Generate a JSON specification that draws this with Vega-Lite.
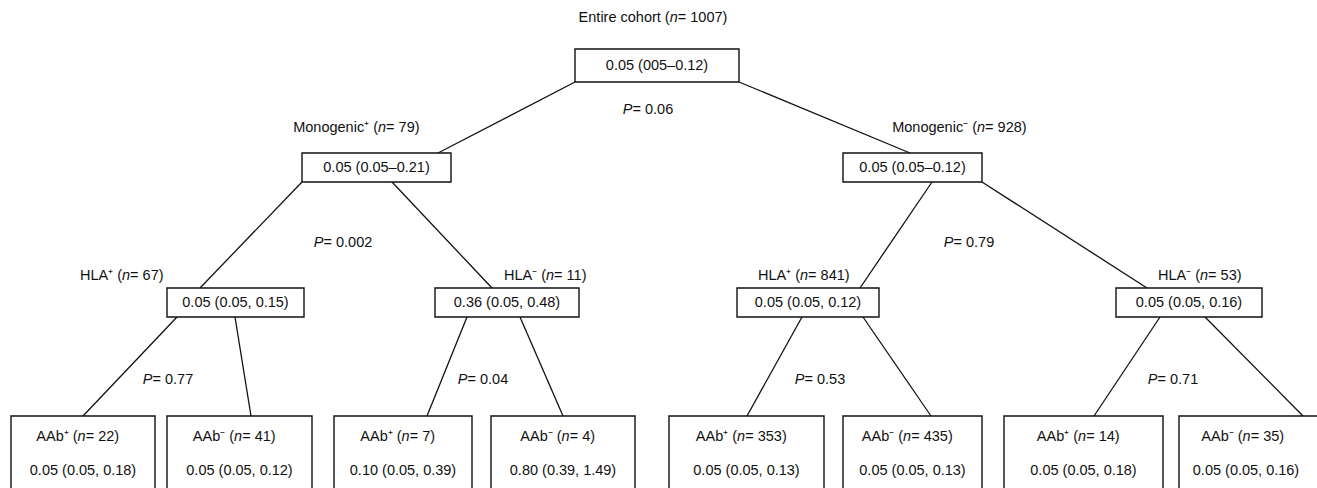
{
  "$schema": "https://vega.github.io/schema/vega-lite/v6.json",
  "width": 1317,
  "height": 488,
  "autosize": "none",
  "padding": 0,
  "background": "white",
  "config": {"view": {"stroke": null}, "text": {"font": "Liberation Sans", "fontSize": 14.5, "color": "#111111"}},
  "datasets": {
    "boxes": [
      {"node": "Entire cohort", "x0": 575, "x1": 739, "y0": 49, "y1": 82},
      {"node": "Monogenic+", "x0": 302, "x1": 451, "y0": 153, "y1": 182},
      {"node": "Monogenic-", "x0": 843, "x1": 982, "y0": 153, "y1": 182},
      {"node": "Mono+ HLA+", "x0": 167, "x1": 304, "y0": 288, "y1": 317},
      {"node": "Mono+ HLA-", "x0": 435, "x1": 579, "y0": 288, "y1": 317},
      {"node": "Mono- HLA+", "x0": 737, "x1": 879, "y0": 288, "y1": 317},
      {"node": "Mono- HLA-", "x0": 1116, "x1": 1262, "y0": 288, "y1": 317},
      {"node": "AAb+ 22", "x0": 11, "x1": 155, "y0": 416, "y1": 500},
      {"node": "AAb- 41", "x0": 167, "x1": 312, "y0": 416, "y1": 500},
      {"node": "AAb+ 7", "x0": 334, "x1": 472, "y0": 416, "y1": 500},
      {"node": "AAb- 4", "x0": 491, "x1": 635, "y0": 416, "y1": 500},
      {"node": "AAb+ 353", "x0": 669, "x1": 824, "y0": 416, "y1": 500},
      {"node": "AAb- 435", "x0": 843, "x1": 982, "y0": 416, "y1": 500},
      {"node": "AAb+ 14", "x0": 1004, "x1": 1163, "y0": 416, "y1": 500},
      {"node": "AAb- 35", "x0": 1179, "x1": 1330, "y0": 416, "y1": 500}
    ],
    "edges": [
      {"x": 575, "y": 82, "x2": 438, "y2": 153},
      {"x": 739, "y": 82, "x2": 910, "y2": 153},
      {"x": 302, "y": 182, "x2": 200, "y2": 288},
      {"x": 392, "y": 182, "x2": 492, "y2": 288},
      {"x": 932, "y": 182, "x2": 860, "y2": 288},
      {"x": 982, "y": 182, "x2": 1147, "y2": 288},
      {"x": 177, "y": 317, "x2": 83, "y2": 416},
      {"x": 235, "y": 317, "x2": 251, "y2": 416},
      {"x": 467, "y": 317, "x2": 427, "y2": 416},
      {"x": 520, "y": 317, "x2": 563, "y2": 416},
      {"x": 802, "y": 317, "x2": 747, "y2": 416},
      {"x": 863, "y": 317, "x2": 931, "y2": 416},
      {"x": 1160, "y": 317, "x2": 1094, "y2": 416},
      {"x": 1205, "y": 317, "x2": 1303, "y2": 416}
    ],
    "labels": [
      {"pre": "Entire cohort (", "post": " = 1007)", "ax": 669.7, "y": 18},
      {"pre": "Monogenic⁺ (", "post": " = 79)", "ax": 378, "y": 128},
      {"pre": "Monogenic⁻ (", "post": " = 928)", "ax": 977, "y": 128},
      {"pre": "HLA⁺ (", "post": " = 67)", "ax": 122, "y": 276},
      {"pre": "HLA⁻ (", "post": " = 11)", "ax": 546, "y": 276},
      {"pre": "HLA⁺ (", "post": " = 841)", "ax": 800, "y": 276},
      {"pre": "HLA⁻ (", "post": " = 53)", "ax": 1200, "y": 276},
      {"pre": "AAb⁺ (", "post": " = 22)", "ax": 77.6, "y": 437},
      {"pre": "AAb⁻ (", "post": " = 41)", "ax": 234.1, "y": 437},
      {"pre": "AAb⁺ (", "post": " = 7)", "ax": 401.6, "y": 437},
      {"pre": "AAb⁻ (", "post": " = 4)", "ax": 561.6, "y": 437},
      {"pre": "AAb⁺ (", "post": " = 353)", "ax": 737.1, "y": 437},
      {"pre": "AAb⁻ (", "post": " = 435)", "ax": 903.1, "y": 437},
      {"pre": "AAb⁺ (", "post": " = 14)", "ax": 1078.1, "y": 437},
      {"pre": "AAb⁻ (", "post": " = 35)", "ax": 1242.6, "y": 437}
    ],
    "values": [
      {"txt": "0.05 (005–0.12)", "x": 657, "y": 66},
      {"txt": "0.05 (0.05–0.21)", "x": 376.5, "y": 168},
      {"txt": "0.05 (0.05–0.12)", "x": 912.5, "y": 168},
      {"txt": "0.05 (0.05, 0.15)", "x": 235.5, "y": 303},
      {"txt": "0.36 (0.05, 0.48)", "x": 507, "y": 303},
      {"txt": "0.05 (0.05, 0.12)", "x": 808, "y": 303},
      {"txt": "0.05 (0.05, 0.16)", "x": 1189, "y": 303},
      {"txt": "0.05 (0.05, 0.18)", "x": 83, "y": 471},
      {"txt": "0.05 (0.05, 0.12)", "x": 239.5, "y": 471},
      {"txt": "0.10 (0.05, 0.39)", "x": 403, "y": 471},
      {"txt": "0.80 (0.39, 1.49)", "x": 563, "y": 471},
      {"txt": "0.05 (0.05, 0.13)", "x": 746.5, "y": 471},
      {"txt": "0.05 (0.05, 0.13)", "x": 912.5, "y": 471},
      {"txt": "0.05 (0.05, 0.18)", "x": 1083.5, "y": 471},
      {"txt": "0.05 (0.05, 0.16)", "x": 1246, "y": 471}
    ],
    "pvals": [
      {"post": " = 0.06", "ax": 632.5, "y": 110},
      {"post": " = 0.002", "ax": 323.5, "y": 243},
      {"post": " = 0.79", "ax": 953.5, "y": 243},
      {"post": " = 0.77", "ax": 152.5, "y": 380},
      {"post": " = 0.04", "ax": 467.5, "y": 380},
      {"post": " = 0.53", "ax": 804.5, "y": 380},
      {"post": " = 0.71", "ax": 1157.5, "y": 380}
    ]
  },
  "layer": [
    {
      "data": {"name": "edges"},
      "mark": {"type": "rule", "color": "#111111", "strokeWidth": 1.3},
      "encoding": {
        "x": {"field": "x", "type": "quantitative", "scale": {"domain": [0, 1317], "nice": false, "zero": false}, "axis": null},
        "y": {"field": "y", "type": "quantitative", "scale": {"domain": [0, 488], "nice": false, "zero": false, "reverse": true}, "axis": null},
        "x2": {"field": "x2"},
        "y2": {"field": "y2"}
      }
    },
    {
      "data": {"name": "boxes"},
      "mark": {"type": "rect", "fill": "white", "stroke": "#111111", "strokeWidth": 1.4},
      "encoding": {
        "x": {"field": "x0", "type": "quantitative", "axis": null},
        "x2": {"field": "x1"},
        "y": {"field": "y0", "type": "quantitative", "axis": null},
        "y2": {"field": "y1"}
      }
    },
    {
      "data": {"name": "values"},
      "mark": {"type": "text", "align": "center", "baseline": "middle"},
      "encoding": {
        "x": {"field": "x", "type": "quantitative", "axis": null},
        "y": {"field": "y", "type": "quantitative", "axis": null},
        "text": {"field": "txt"}
      }
    },
    {
      "data": {"name": "labels"},
      "mark": {"type": "text", "align": "right", "baseline": "middle"},
      "encoding": {
        "x": {"field": "ax", "type": "quantitative", "axis": null},
        "y": {"field": "y", "type": "quantitative", "axis": null},
        "text": {"field": "pre"}
      }
    },
    {
      "data": {"name": "labels"},
      "mark": {"type": "text", "align": "left", "baseline": "middle", "fontStyle": "italic"},
      "encoding": {
        "x": {"field": "ax", "type": "quantitative", "axis": null},
        "y": {"field": "y", "type": "quantitative", "axis": null},
        "text": {"value": "n"}
      }
    },
    {
      "data": {"name": "labels"},
      "mark": {"type": "text", "align": "left", "baseline": "middle", "dx": 8.1},
      "encoding": {
        "x": {"field": "ax", "type": "quantitative", "axis": null},
        "y": {"field": "y", "type": "quantitative", "axis": null},
        "text": {"field": "post"}
      }
    },
    {
      "data": {"name": "pvals"},
      "mark": {"type": "text", "align": "right", "baseline": "middle", "fontStyle": "italic"},
      "encoding": {
        "x": {"field": "ax", "type": "quantitative", "axis": null},
        "y": {"field": "y", "type": "quantitative", "axis": null},
        "text": {"value": "P"}
      }
    },
    {
      "data": {"name": "pvals"},
      "mark": {"type": "text", "align": "left", "baseline": "middle"},
      "encoding": {
        "x": {"field": "ax", "type": "quantitative", "axis": null},
        "y": {"field": "y", "type": "quantitative", "axis": null},
        "text": {"field": "post"}
      }
    }
  ]
}
